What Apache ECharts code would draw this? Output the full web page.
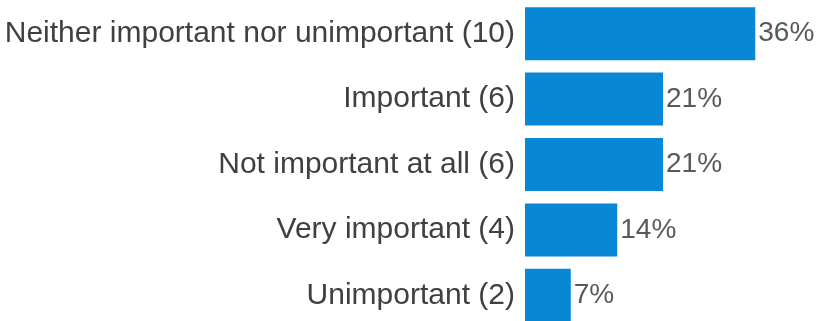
<!DOCTYPE html>
<html><head><meta charset="utf-8">
<script src="https://cdn.jsdelivr.net/npm/echarts@6/dist/echarts.min.js"></script>
<style>html,body{margin:0;padding:0;background:#fff}#c{width:817px;height:321px}</style>
</head><body><div id="c"></div>
<script>
const categories = ["Neither important nor unimportant (10)", "Important (6)", "Not important at all (6)", "Very important (4)", "Unimportant (2)"];
const percentValues = [35.7, 21.4, 21.4, 14.3, 7.1];

const chart = echarts.init(document.getElementById('c'), null, {renderer: 'canvas'});
chart.setOption({
  animation: false,
  grid: {left: 525, width: 258, top: 1, height: 327, outerBoundsMode: 'none', containLabel: false},
  xAxis: {type: 'value', min: 0, max: 40, show: false},
  yAxis: {
    type: 'category', data: categories, inverse: true,
    axisLine: {show: false}, axisTick: {show: false}, splitLine: {show: false},
    axisLabel: {fontFamily: 'Liberation Sans, Arial, sans-serif', fontSize: 30, color: '#404040', margin: 10}
  },
  series: [{
    type: 'bar', data: percentValues, barCategoryGap: '19%',
    itemStyle: {color: '#0787D4'},
    label: {show: true, position: 'right', distance: 3,
      fontFamily: 'Liberation Sans, Arial, sans-serif', fontSize: 28, color: '#595959',
      formatter: p => Math.round(p.value) + '%'}
  }]
});
</script></body></html>
